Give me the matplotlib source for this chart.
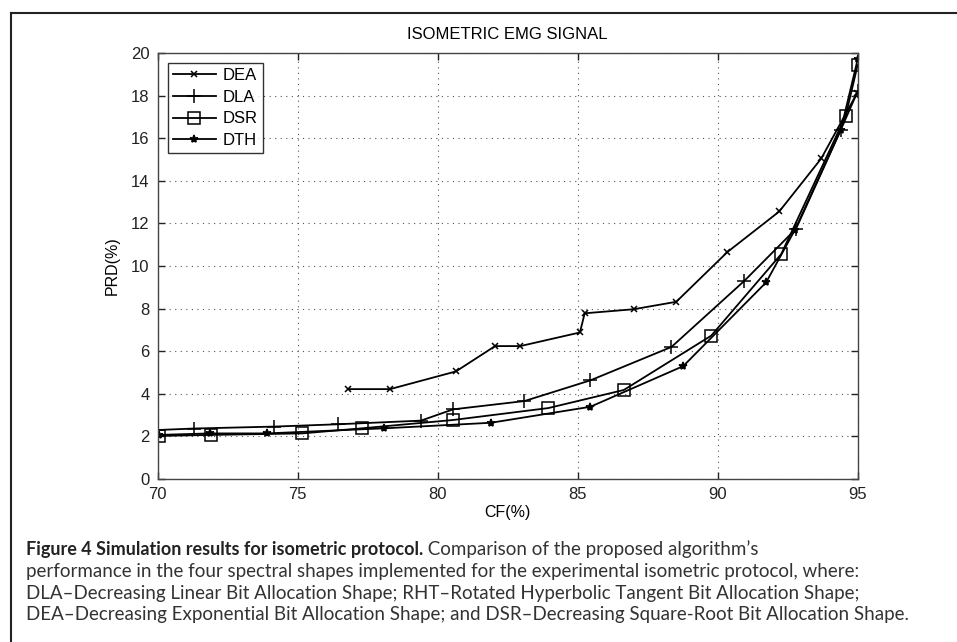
import matplotlib
matplotlib.use("Agg")
import matplotlib.pyplot as plt
from matplotlib.lines import Line2D

plt.rcParams["font.family"] = ["Liberation Sans", "DejaVu Sans"]

# CF(%) / PRD(%) pairs for each bit allocation shape
dea_cf = [76.8, 78.3, 80.65, 82.05, 82.95, 85.08, 85.25, 87.0, 88.52, 90.35, 92.2, 93.7, 94.97]
dea_prd = [4.22, 4.22, 5.05, 6.24, 6.24, 6.88, 7.78, 7.97, 8.32, 10.66, 12.56, 15.05, 18.1]

dla_cf = [70.0, 71.3, 74.15, 76.45, 79.4, 80.55, 83.1, 85.45, 88.35, 90.95, 92.8, 94.4, 95.0]
dla_prd = [2.3, 2.37, 2.46, 2.57, 2.74, 3.27, 3.66, 4.63, 6.2, 9.3, 11.75, 16.4, 18.2]

dsr_cf = [70.05, 71.9, 75.15, 77.3, 80.55, 83.95, 86.65, 89.77, 92.27, 94.57, 95.0]
dsr_prd = [2.02, 2.07, 2.14, 2.38, 2.77, 3.33, 4.18, 6.73, 10.56, 17.04, 19.44]

dth_cf = [70.05, 71.85, 73.9, 78.1, 81.9, 85.45, 88.77, 91.73, 92.76, 94.4, 95.0]
dth_prd = [2.07, 2.14, 2.14, 2.38, 2.64, 3.39, 5.3, 9.23, 11.7, 16.4, 19.7]

x_ticks = [70, 75, 80, 85, 90, 95]
y_ticks = [0, 2, 4, 6, 8, 10, 12, 14, 16, 18, 20]

fig = plt.figure(figsize=(9.57, 6.42), dpi=100)
ax = fig.add_axes([0.1648, 0.2539, 0.7314, 0.6635])

common = dict(color="black", linewidth=1.3, markeredgewidth=1.1)
ax.plot(dea_cf, dea_prd, marker="x", markersize=4, label="DEA", **common)
ax.plot(dla_cf, dla_prd, marker="+", markersize=10, label="DLA", **common)
ax.plot(dsr_cf, dsr_prd, marker="s", markersize=8, markerfacecolor="none", label="DSR", **common)
ax.plot(dth_cf, dth_prd, marker="*", markersize=6, label="DTH", **common)

ax.set_xlim(70, 95)
ax.set_ylim(0, 20)
ax.set_xticks(x_ticks)
ax.set_yticks(y_ticks)
ax.tick_params(direction="in", top=True, right=True, length=5, width=1,
               labelsize=12, colors="#222222", pad=6)
ax.grid(True, linestyle=(0, (1, 4)), color="#555555", linewidth=0.8)
for s in ax.spines.values():
    s.set_linewidth(1.0)
    s.set_color("#444444")

ax.set_title("ISOMETRIC EMG SIGNAL", fontsize=12, pad=10)
ax.set_xlabel("CF(%)", fontsize=11.5, labelpad=2)
ax.set_ylabel("PRD(%)", fontsize=11.5, labelpad=8)

leg = ax.legend(loc="upper left", fontsize=12, frameon=True, fancybox=False,
                borderaxespad=0.6, handlelength=2.6, handletextpad=0.4,
                labelspacing=0.4, borderpad=0.3)
leg.get_frame().set_edgecolor("black")
leg.get_frame().set_linewidth(1.0)

# panel frame around the figure
fig.add_artist(Line2D([0.012, 1.0], [0.980, 0.980], transform=fig.transFigure,
                      color="#222222", linewidth=1.5))
fig.add_artist(Line2D([0.012, 0.012], [0.0, 0.980], transform=fig.transFigure,
                      color="#222222", linewidth=1.5))

# caption: bold lead-in followed by regular text
cap_font = ["Lato", "DejaVu Sans"]
cap_size = 13.5
cap_y = 0.1355
cap_step = 0.034
head = fig.text(0.027, cap_y, "Figure 4 Simulation results for isometric protocol.",
                fontsize=13, fontweight="bold", family=cap_font,
                color="#222222", va="baseline")
ax.annotate(" Comparison of the proposed algorithm\u2019s", xy=(1, 0), xycoords=head,
            fontsize=cap_size, family=cap_font, color="#333333", va="bottom",
            annotation_clip=False)
lines = [
    "performance in the four spectral shapes implemented for the experimental isometric protocol, where:",
    "DLA\u2013Decreasing Linear Bit Allocation Shape; RHT\u2013Rotated Hyperbolic Tangent Bit Allocation Shape;",
    "DEA\u2013Decreasing Exponential Bit Allocation Shape; and DSR\u2013Decreasing Square-Root Bit Allocation Shape.",
]
for i, line in enumerate(lines):
    fig.text(0.027, cap_y - (i + 1) * cap_step, line, fontsize=cap_size,
             family=cap_font, color="#333333", va="baseline")

fig.savefig("out.png", dpi=100)
